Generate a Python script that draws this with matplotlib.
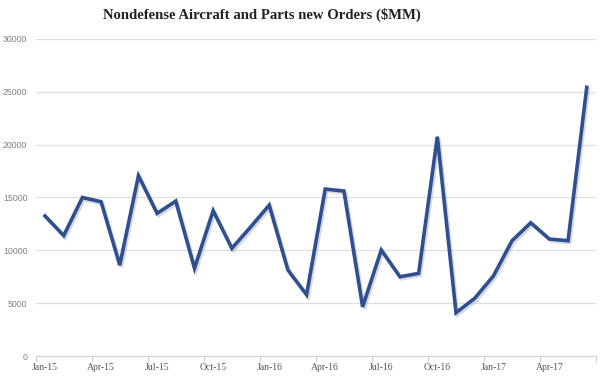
import matplotlib
matplotlib.use('Agg')
import matplotlib.pyplot as plt
import matplotlib.patheffects as pe
import numpy as np

# monthly new orders, Jan-15 .. Jun-17 ($MM)
months = ['Jan-15', 'Feb-15', 'Mar-15', 'Apr-15', 'May-15', 'Jun-15',
          'Jul-15', 'Aug-15', 'Sep-15', 'Oct-15', 'Nov-15', 'Dec-15',
          'Jan-16', 'Feb-16', 'Mar-16', 'Apr-16', 'May-16', 'Jun-16',
          'Jul-16', 'Aug-16', 'Sep-16', 'Oct-16', 'Nov-16', 'Dec-16',
          'Jan-17', 'Feb-17', 'Mar-17', 'Apr-17', 'May-17', 'Jun-17']
orders = [13250, 11400, 15000, 14600, 8600, 17060,
          13500, 14660, 8300, 13750, 10190, 12200,
          14280, 8140, 5800, 15800, 15610, 4660,
          10030, 7500, 7820, 20750, 4100, 5460,
          7570, 10910, 12610, 11070, 10910, 25420]
yticks = [0, 5000, 10000, 15000, 20000, 25000, 30000]

fig = plt.figure(figsize=(6, 3.82), dpi=100)
ax = fig.add_axes([0.0595, 0.068, 0.934, 0.830])

x = np.arange(len(months))
ax.plot(x, orders, color='#2f4f8f', lw=2.6, solid_joinstyle='miter',
        path_effects=[pe.SimpleLineShadow(offset=(1.2, -1.5), shadow_color='#a4abb8', alpha=0.45),
                      pe.Normal()], zorder=3)

ax.set_xlim(-0.5, len(months) - 0.5)
ax.set_ylim(0, 30000)
ax.set_yticks(yticks)
ax.set_yticklabels([str(v) for v in yticks], fontsize=6.3, color='#808080',
                   family='Liberation Sans')
ax.tick_params(axis='y', length=0, pad=6)
ax.grid(axis='y', color='#dedede', lw=0.9, zorder=0)

# ticks at category boundaries, labels at every third month
ax.set_xticks(np.arange(-0.5, len(months), 3))
ax.set_xticklabels([])
ax.set_xticks(x[::3], minor=True)
ax.set_xticklabels(months[::3], minor=True, fontsize=7, color='#555555',
                   family='Liberation Serif')
ax.tick_params(axis='x', which='major', length=4, color='#d0d0d0')
ax.tick_params(axis='x', which='minor', length=0, pad=5)

for s in ['top', 'right', 'left']:
    ax.spines[s].set_visible(False)
ax.spines['bottom'].set_color('#d0d0d0')

fig.text(0.437, 0.96, 'Nondefense Aircraft and Parts new Orders ($MM)',
         ha='center', va='center', fontsize=10.6, fontweight='bold',
         family='Liberation Serif', color='#222222')

fig.savefig('out.png', dpi=100)
